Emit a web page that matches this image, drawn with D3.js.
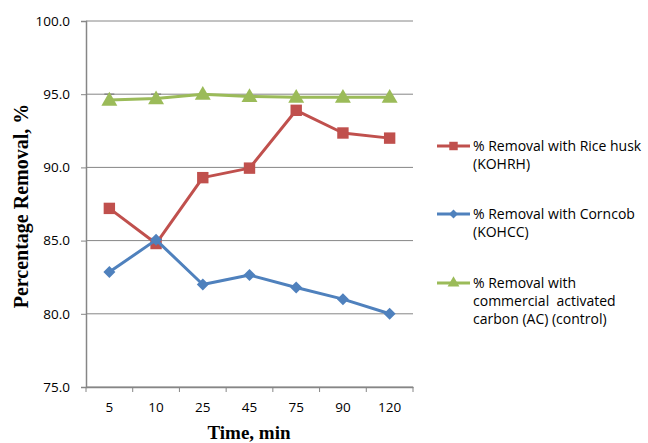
<!DOCTYPE html>
<html><head><meta charset="utf-8">
<script src="https://cdn.jsdelivr.net/npm/d3@7"></script>
<style>body{margin:0;background:#fff}svg{display:block}</style>
</head><body>
<svg id="c" width="648" height="443"></svg>
<script>
const categories = ["5","10","25","45","75","90","120"];
const riceHusk = [87.2, 84.8, 89.3, 89.95, 93.9, 92.35, 92.0];
const corncob = [82.85, 85.05, 82.0, 82.65, 81.8, 81.0, 80.0];
const activatedCarbon = [94.6, 94.7, 95.0, 94.85, 94.8, 94.8, 94.8];
const acErrorTop = [95.0, 95.0, null, null, null, null, null];
const yTicks = [75, 80, 85, 90, 95, 100];
const seriesNames = [
  ["% Removal with Rice husk", "(KOHRH)"],
  ["% Removal with Corncob", "(KOHCC)"],
  ["% Removal with", "commercial  activated", "carbon (AC) (control)"]
];

const svg = d3.select("#c");
const L = 86, R = 413, T = 21, B = 387;
const x = d3.scaleBand().domain(categories).range([L, R]);
const y = d3.scaleLinear().domain([75, 100]).range([B, T]);
const gray = "#868686";
const sans = "'Open Sans', 'Liberation Sans', sans-serif";

// gridlines
svg.append("g").selectAll("line").data(yTicks).join("line")
  .attr("x1", L).attr("x2", R).attr("y1", d => y(d)).attr("y2", d => y(d))
  .attr("stroke", gray).attr("stroke-width", 1);

// y axis
const ya = svg.append("g").attr("transform", `translate(${L},0)`)
  .call(d3.axisLeft(y).tickValues(yTicks).tickFormat(d3.format(".1f")).tickSize(5).tickPadding(11));
ya.select(".domain").attr("stroke", gray).attr("stroke-width", 1.5);
ya.selectAll(".tick line").attr("stroke", gray);
ya.selectAll("text").attr("font-family", sans).attr("font-size", 13.5).attr("fill", "#000");

// x axis
const xa = svg.append("g").attr("transform", `translate(0,${B})`)
  .call(d3.axisBottom(x).tickSize(0).tickPadding(15));
xa.select(".domain").attr("stroke", gray).attr("stroke-width", 1.5);
xa.selectAll("text").attr("font-family", sans).attr("font-size", 13.5).attr("fill", "#000");
// boundary ticks
const bounds = categories.map(c => x(c)).concat([R]);
svg.append("g").selectAll("line").data(bounds).join("line")
  .attr("x1", d => d).attr("x2", d => d).attr("y1", B).attr("y2", B + 5)
  .attr("stroke", gray).attr("stroke-width", 1);

const cx = c => x(c) + x.bandwidth() / 2;

// error bars (AC)
const eb = svg.append("g");
categories.forEach((c, i) => {
  if (acErrorTop[i] == null) return;
  eb.append("line").attr("x1", cx(c)).attr("x2", cx(c)).attr("y1", y(activatedCarbon[i])).attr("y2", y(acErrorTop[i])).attr("stroke", gray);
  eb.append("line").attr("x1", cx(c) - 5).attr("x2", cx(c) + 5).attr("y1", y(acErrorTop[i])).attr("y2", y(acErrorTop[i])).attr("stroke", gray).attr("stroke-width", 1.5);
});

const series = [
  {vals: riceHusk, color: "#C0504D", sym: d3.symbolSquare, size: 130, rot: 0, dy: 0},
  {vals: corncob, color: "#4F81BD", sym: d3.symbolSquare, size: 72, rot: 45, dy: 0},
  {vals: activatedCarbon, color: "#9BBB59", sym: d3.symbolTriangle, size: 110, rot: 0, dy: 1}
];
const line = d3.line().x((d, i) => cx(categories[i])).y(d => y(d));
series.forEach(s => {
  svg.append("path").attr("d", line(s.vals)).attr("fill", "none")
    .attr("stroke", s.color).attr("stroke-width", 3).attr("stroke-linejoin", "round");
  svg.append("g").selectAll("path").data(s.vals).join("path")
    .attr("d", d3.symbol().type(s.sym).size(s.size))
    .attr("transform", (d, i) => `translate(${cx(categories[i])},${y(d) + s.dy}) rotate(${s.rot})`)
    .attr("fill", s.color);
});

// legend
const legY = [146, 214, 283];
series.forEach((s, k) => {
  const g = svg.append("g");
  g.append("line").attr("x1", 437).attr("x2", 470).attr("y1", legY[k]).attr("y2", legY[k])
    .attr("stroke", s.color).attr("stroke-width", 3);
  g.append("path").attr("d", d3.symbol().type(s.sym).size(s.size * 0.55))
    .attr("transform", `translate(453.5,${legY[k]}) rotate(${s.rot})`).attr("fill", s.color);
  seriesNames[k].forEach((t, j) => {
    g.append("text").attr("x", 473).attr("y", legY[k] + j * 18 + 5)
      .attr("font-family", sans).attr("font-size", 14)
      .style("white-space", "pre")
      .attr("fill", "#000").text(t);
  });
});

// axis titles
svg.append("text").attr("x", 249).attr("y", 439).attr("text-anchor", "middle")
  .attr("font-family", "'Liberation Serif', 'DejaVu Serif', serif").attr("font-weight", "bold").attr("font-size", 19)
  .text("Time, min");
svg.append("text").attr("transform", "translate(28,206) rotate(-90)").attr("text-anchor", "middle")
  .attr("font-family", "'Liberation Serif', 'DejaVu Serif', serif").attr("font-weight", "bold").attr("font-size", 20)
  .text("Percentage Removal, %");
</script>
</body></html>
